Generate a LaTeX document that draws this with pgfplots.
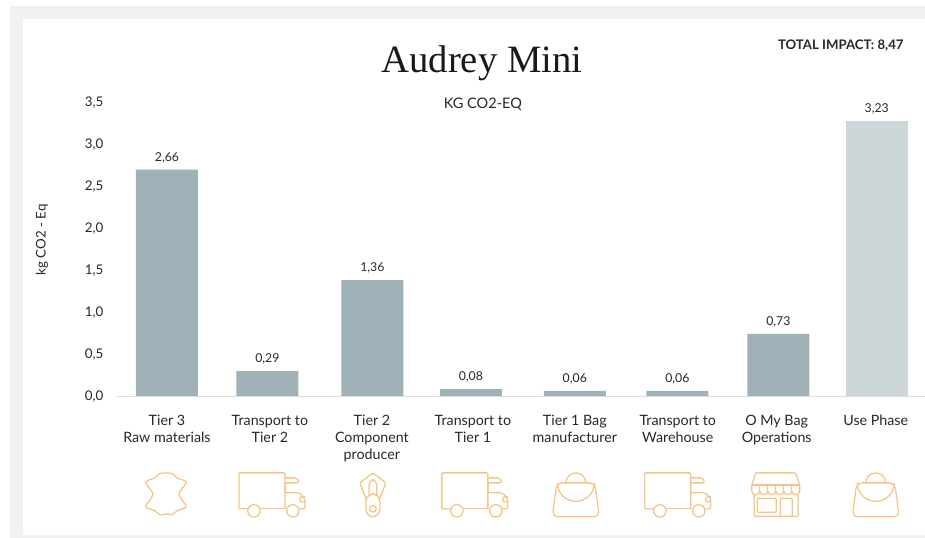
\documentclass[border=0pt]{standalone}
\usepackage{fontspec}
\setmainfont{Lato}
\newfontfamily\titlefont{Liberation Serif}
\usepackage{pgfplots}
\pgfplotsset{compat=1.18}
\definecolor{band}{RGB}{242,241,239}
\definecolor{barblue}{RGB}{159,178,184}
\definecolor{barlight}{RGB}{205,214,217}
\definecolor{axisgrey}{RGB}{222,224,225}
\definecolor{ink}{RGB}{40,40,40}
\definecolor{icon}{RGB}{245,197,135}
\tikzset{
  ic/.style={draw=icon, line width=0.95pt, line join=round, fill=none},
  truck/.pic={
    \draw[ic, rounded corners=0.8pt] (9,36) -- (0,36) -- (0,0) -- (46,0) -- (46,36);
    \draw[ic] (21.5,36) -- (47.5,36);
    \draw[ic, rounded corners=1.5pt] (46,5) -- (58,5) -- (60,10) -- (46,10);
    \draw[ic, rounded corners=1.5pt] (46,10) -- (46,20) -- (61,20) -- (66,26) -- (66,36) -- (60.5,36);
    \draw[ic, rounded corners=1pt] (66,24) -- (61,24) -- (61,29) -- (66,29);
    \draw[ic] (15,38) circle (6.2);
    \draw[ic] (54,38) circle (6.2);
  },
  bag/.pic={
    \draw[ic] (-10,0) arc (180:360:10);
    \draw[ic, rounded corners=4pt] (-19,0) -- (19,0) -- (23.5,34) -- (-23.5,34) -- cycle;
    \draw[ic] (-18.5,0) arc (180:0:18.5);
  },
  zipper/.pic={
    \draw[ic, rounded corners=1pt] (0,0) -- (13,10) -- (6,28) -- (-6,28) -- (-13,10) -- cycle;
    \draw[ic, rounded corners=3.5pt] (-3.8,7) rectangle (3.8,28);
    \draw[ic, fill=white, rounded corners=6pt] (-7,21) rectangle (7,44);
    \draw[ic] (0,36) circle (3.3);
  },
  hide/.pic={
    \draw[ic] plot[smooth cycle, tension=0.6] coordinates {
      (0,-21) (7,-20) (11,-16) (20,-12) (16,-5) (13,0) (16,6) (20,13)
      (11,17) (6,21) (0,20) (-6,21) (-11,17) (-20,13) (-16,6) (-13,0)
      (-16,-5) (-20,-12) (-11,-16) (-7,-20)};
  },
  store/.pic={
    \draw[ic, rounded corners=0.8pt] (3.4,22) -- (3.4,43.4) -- (47.4,43.4) -- (47.4,22);
    \draw[ic, rounded corners=0.8pt] (6.4,25.4) -- (25.4,25.4) -- (25.4,39.4) -- (6.4,39.4) -- cycle;
    \draw[ic, rounded corners=0.8pt] (29.4,43.4) -- (29.4,25.4) -- (41.4,25.4) -- (41.4,43.4);
    \draw[ic, rounded corners=1pt] (5,0) -- (45,0) -- (49,12) -- (49,18) (1,18) -- (1,12) -- (5,0);
    \draw[ic] (1,12) -- (49,12);
    \draw[ic] (9,12) -- (9,18) (17,12) -- (17,18) (25,12) -- (25,18) (33,12) -- (33,18) (41,12) -- (41,18);
    \draw[ic] (1,18) arc (180:0:4) arc (180:0:4) arc (180:0:4) arc (180:0:4) arc (180:0:4) arc (180:0:4);
  }
}
\begin{document}
\begin{tikzpicture}
\begin{scope}[x=0.75pt,y=-0.75pt]
  \path[use as bounding box] (0,0) rectangle (925,538);
  \fill[white] (0,0) rectangle (925,538);
  \fill[band] (10,6) rectangle (925,538);
  \fill[white] (23,19) rectangle (925,535);
  \node[font=\titlefont\fontsize{29}{32}\selectfont, text=black!90] at (482,63) {Audrey Mini};
  \node[font=\fontsize{10.9}{12}\selectfont, text=ink] at (483,104) {KG CO2-EQ};
  \node[font=\fontsize{9.9}{11}\selectfont\bfseries, text=ink] at (841,46) {TOTAL IMPACT: 8,47};
  \pic at (166,494) {hide};
  \pic at (239,473) {truck};
  \pic at (373,473) {zipper};
  \pic at (442,473) {truck};
  \pic at (576,483) {bag};
  \pic at (645,473) {truck};
  \pic at (751,473) {store};
  \pic at (876,483) {bag};
\end{scope}
\begin{axis}[
    at={(87pt,-297pt)}, anchor=south west,
    scale only axis, width=606.75pt, height=223.4pt,
    xmin=-0.503, xmax=7.473, ymin=0, ymax=3.5,
    axis x line=bottom, axis y line=left,
    x axis line style={draw=axisgrey, -},
    y axis line style={draw=none},
    major tick length=0pt,
    ytick={0,0.4935,0.987,1.4805,1.974,2.4675,2.961,3.4545},
    yticklabels={{0,0},{0,5},{1,0},{1,5},{2,0},{2,5},{3,0},{3,5}},
    xtick={0,1.015,2.021,3.017,4.022,5.037,6.013,6.99},
    xticklabels={{Tier 3\\Raw materials},{Transport to\\Tier 2},{Tier 2\\Component\\producer},
      {Transport to\\Tier 1},{Tier 1 Bag\\manufacturer},{Transport to\\Warehouse},
      {O My Bag\\Operations},{Use Phase}},
    x tick label style={align=center, font=\fontsize{10.7}{12.75}\selectfont, text=ink, anchor=north, yshift=-11pt},
    y tick label style={font=\fontsize{10}{11}\selectfont, text=ink, xshift=-6pt, yshift=-0.7pt},
    ylabel={kg CO2 - Eq},
    ylabel style={at={(axis description cs:-0.0915,0.524)}, anchor=center, font=\fontsize{10}{11}\selectfont, text=ink},
    ybar, bar width=46.5pt, bar shift=0pt,
    nodes near coords,
    every node near coord/.append style={font=\fontsize{9.2}{10}\selectfont, text=ink, yshift=1.5pt,
      /pgf/number format/.cd, fixed, fixed zerofill, precision=2, use comma, assume math mode=true},
    clip=false,
]
\addplot[draw=none, fill=barblue] coordinates {(0,2.66) (0.99,0.29) (2.026,1.36) (2.997,0.08) (4.022,0.06) (5.033,0.06) (6.029,0.73)};
\addplot[draw=none, fill=barlight] coordinates {(7,3.23)};
\end{axis}
\end{tikzpicture}
\end{document}
